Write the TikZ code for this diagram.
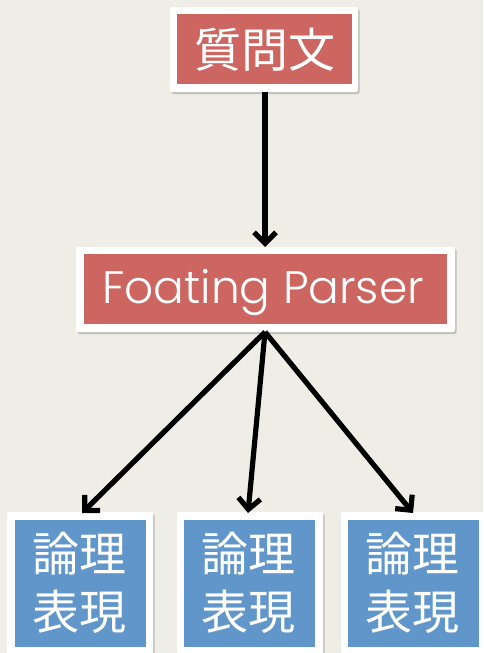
\documentclass[tikz,border=0pt]{standalone}
\usepackage{fontspec}
\newfontfamily\cjk{Noto Sans CJK JP}
\newfontfamily\latinfont{Poppins Light}
\usetikzlibrary{arrows.meta,shadows}
\definecolor{bgpaper}{HTML}{EFEEE6}
\definecolor{boxred}{HTML}{CD6661}
\definecolor{boxblue}{HTML}{6196CA}
\tikzset{
  frame/.style={fill=white, rounded corners=2pt,
    drop shadow={shadow xshift=1.5pt, shadow yshift=-2pt, opacity=0.35, fill=black!60}},
  redpanel/.style={fill=boxred},
  bluepanel/.style={fill=boxblue},
  label/.style={text=white, inner sep=0pt},
  link/.style={line width=5.2pt, -{Straight Barb[length=11pt,width=22pt,line width=5.2pt]}, black}
}
\begin{document}
\begin{tikzpicture}[x=1pt,y=-1pt]
  \useasboundingbox[fill=bgpaper] (0,0) rectangle (483,653);
  % top: question sentence
  \path[frame] (170,7) rectangle (358,92);
  \path[redpanel] (177,14) rectangle (352,84);
  \node[label, font=\cjk\fontsize{47}{50}\selectfont] (q) at (264.5,50) {質問文};
  \coordinate (qbot) at (265,92);
  % middle: parser
  \path[frame] (76,247) rectangle (455,332);
  \path[redpanel] (84,254) rectangle (447,324);
  \node[label, font=\latinfont\fontsize{45.5}{50}\selectfont] (p) at (263,292) {Foating Parser};
  \coordinate (ptop) at (265,247);
  \coordinate (pbot) at (265,332);
  % bottom: logical forms
  \foreach \i/\xa/\xb in {1/7/153, 2/177/323, 3/341/490}{
    \path[frame] (\xa,512) rectangle (\xb,660);
  }
  \path[bluepanel] (15,520) rectangle (146,647);
  \path[bluepanel] (184,520) rectangle (315,647);
  \path[bluepanel] (348,520) rectangle (479,647);
  \foreach \n/\cx in {l1/79, l2/248, l3/412}{
    \node[label, font=\cjk\fontsize{47}{58}\selectfont, align=center] (\n) at (\cx,583) {論理\\表現};
  }
  \coordinate (t1) at (82,513);
  \coordinate (t2) at (248,513);
  \coordinate (t3) at (413,513);
  % connectors
  \draw[link] (qbot) -- (ptop);
  \draw[link] (pbot) -- (t1);
  \draw[link] (pbot) -- (t2);
  \draw[link] (pbot) -- (t3);
\end{tikzpicture}
\end{document}
